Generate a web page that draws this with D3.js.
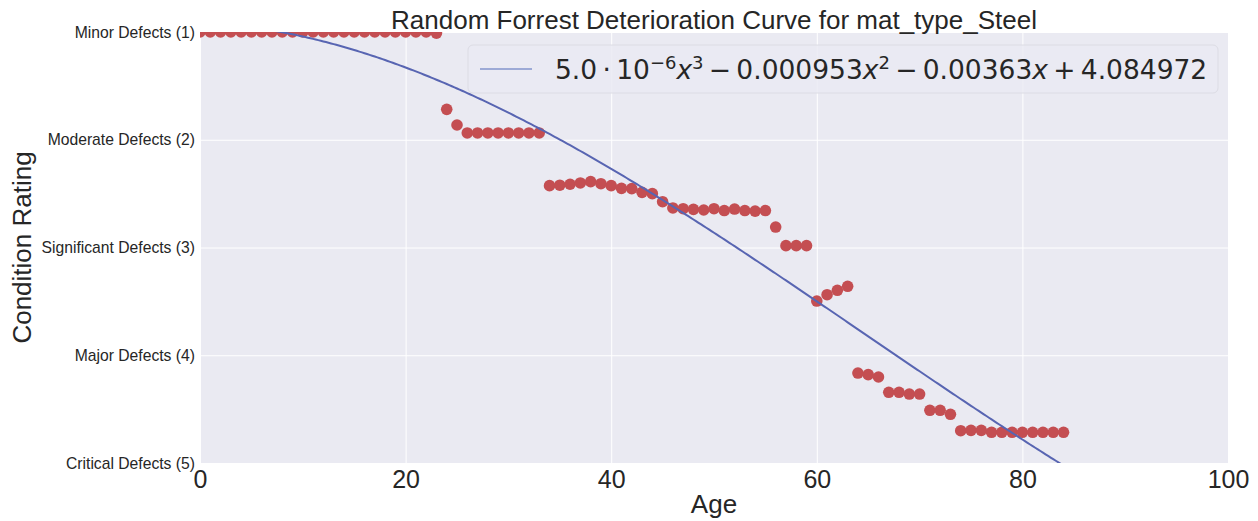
<!DOCTYPE html>
<html>
<head>
<meta charset="utf-8">
<script src="https://cdn.jsdelivr.net/npm/d3@7"></script>
<style>
  html, body { margin: 0; padding: 0; background: #ffffff; }
  svg { display: block; }
</style>
</head>
<body>
<svg id="chart" width="1258" height="521"></svg>
<script>
// ---- Data ----
const ages = d3.range(0, 85);
const ratings = [
  4, 4, 4, 4, 4, 4, 4, 4, 4, 4,
  4, 4, 4, 4, 4, 4, 4, 4, 4, 4,
  4, 4, 4, 3.99, 3.282, 3.137, 3.063, 3.063, 3.063, 3.063,
  3.063, 3.063, 3.063, 3.063, 2.574, 2.578, 2.587, 2.599, 2.611, 2.592,
  2.574, 2.549, 2.546, 2.512, 2.50, 2.425, 2.367, 2.360, 2.354, 2.348,
  2.360, 2.343, 2.357, 2.343, 2.338, 2.343, 2.190, 2.017, 2.017, 2.017,
  1.503, 1.562, 1.603, 1.640, 0.835, 0.820, 0.798, 0.656, 0.656, 0.640,
  0.640, 0.489, 0.489, 0.452, 0.300, 0.303, 0.303, 0.285, 0.285, 0.285,
  0.285, 0.285, 0.285, 0.285, 0.285
];
// fitted polynomial coefficients (x^3, x^2, x, const); the legend shows them rounded to 6 decimals,
// the cubic term
const fitCoeffs = [4.927e-6, -0.000953, -0.00363, 4.084972];
const xTicks = [0, 20, 40, 60, 80, 100];
const yTickValues = [4, 3, 2, 1, 0];
const yTickLabels = ["Minor Defects (1)", "Moderate Defects (2)", "Significant Defects (3)", "Major Defects (4)", "Critical Defects (5)"];

const titleText = "Random Forrest Deterioration Curve for mat_type_Steel";

// ---- Layout ----
const svg = d3.select("#chart");
const pLeft = 200, pRight = 1228, pTop = 32, pBottom = 463;

const x = d3.scaleLinear().domain([0, 100]).range([pLeft, pRight]);
const y = d3.scaleLinear().domain([0, 4]).range([pBottom, pTop]);

svg.append("defs").append("clipPath").attr("id", "plotclip")
  .append("rect").attr("x", pLeft).attr("y", pTop).attr("width", pRight - pLeft).attr("height", pBottom - pTop);

svg.append("rect").attr("x", pLeft).attr("y", pTop).attr("width", pRight - pLeft).attr("height", pBottom - pTop)
  .attr("fill", "#EAEAF2");

// grid
const gx = svg.append("g").attr("transform", `translate(0,${pBottom})`)
  .call(d3.axisBottom(x).tickValues(xTicks).tickSize(-(pBottom - pTop)).tickPadding(6).tickFormat(d3.format("d")));
gx.select(".domain").remove();
gx.selectAll(".tick line").attr("stroke", "#ffffff").attr("stroke-width", 1);
gx.selectAll(".tick text").attr("font-family", "Liberation Sans, Arial, sans-serif")
  .attr("font-size", 25).attr("fill", "#262626").attr("dy", "0.75em");

const gy = svg.append("g").attr("transform", `translate(${pLeft},0)`)
  .call(d3.axisLeft(y).tickValues(yTickValues).tickSize(-(pRight - pLeft)).tickPadding(5)
    .tickFormat((d, i) => yTickLabels[i]));
gy.select(".domain").remove();
gy.selectAll(".tick line").attr("stroke", "#ffffff").attr("stroke-width", 1);
gy.selectAll(".tick text").attr("font-family", "Liberation Sans, Arial, sans-serif")
  .attr("font-size", 15.7).attr("fill", "#262626");

// scatter
const plot = svg.append("g").attr("clip-path", "url(#plotclip)");
plot.selectAll("circle").data(ages).join("circle")
  .attr("cx", d => x(d)).attr("cy", (d, i) => y(ratings[i])).attr("r", 5.8)
  .attr("fill", "#C44E52");

// fitted curve
const poly = t => fitCoeffs[0] * t * t * t + fitCoeffs[1] * t * t + fitCoeffs[2] * t + fitCoeffs[3];
const curveX = d3.range(0, 100.01, 0.25);
plot.append("path").datum(curveX)
  .attr("d", d3.line().x(d => x(d)).y(d => y(poly(d))))
  .attr("fill", "none").attr("stroke", "#5865B2").attr("stroke-width", 2);

// title
svg.append("text").attr("x", (pLeft + pRight) / 2).attr("y", 28.5).attr("text-anchor", "middle")
  .attr("font-family", "Liberation Sans, Arial, sans-serif").attr("font-size", 26).attr("fill", "#262626")
  .text(titleText);

// axis labels
svg.append("text").attr("x", (pLeft + pRight) / 2).attr("y", 513).attr("text-anchor", "middle")
  .attr("font-family", "Liberation Sans, Arial, sans-serif").attr("font-size", 26).attr("fill", "#262626")
  .text("Age");
svg.append("text").attr("transform", `translate(31,${(pTop + pBottom) / 2}) rotate(-90)`).attr("text-anchor", "middle")
  .attr("font-family", "Liberation Sans, Arial, sans-serif").attr("font-size", 26).attr("fill", "#262626")
  .text("Condition Rating");

// legend
const lg = svg.append("g");
lg.append("rect").attr("x", 468).attr("y", 45).attr("width", 750).attr("height", 48).attr("rx", 5)
  .attr("fill", "#EAEAF2").attr("fill-opacity", 0.8).attr("stroke", "#DCDCE4").attr("stroke-width", 1);
lg.append("line").attr("x1", 480).attr("x2", 532).attr("y1", 69).attr("y2", 69)
  .attr("stroke", "#8395CC").attr("stroke-width", 1.5);
const lt = lg.append("text").attr("x", 555).attr("y", 79)
  .attr("font-family", "DejaVu Sans, sans-serif").attr("font-size", 26.5).attr("fill", "#262626");
lt.append("tspan").text("5.0\u2009\u00B7\u200910");
lt.append("tspan").attr("dy", -10).attr("font-size", 18).text("\u22126");
lt.append("tspan").attr("dy", 10).attr("font-style", "italic").text("x");
lt.append("tspan").attr("dy", -10).attr("font-size", 18).text("3");
lt.append("tspan").attr("dy", 10).text("\u2009\u2212\u20090.000953");
lt.append("tspan").attr("font-style", "italic").text("x");
lt.append("tspan").attr("dy", -10).attr("font-size", 18).text("2");
lt.append("tspan").attr("dy", 10).text("\u2009\u2212\u20090.00363");
lt.append("tspan").attr("font-style", "italic").text("x");
lt.append("tspan").text("\u2009+\u20094.084972");
</script>
</body>
</html>
